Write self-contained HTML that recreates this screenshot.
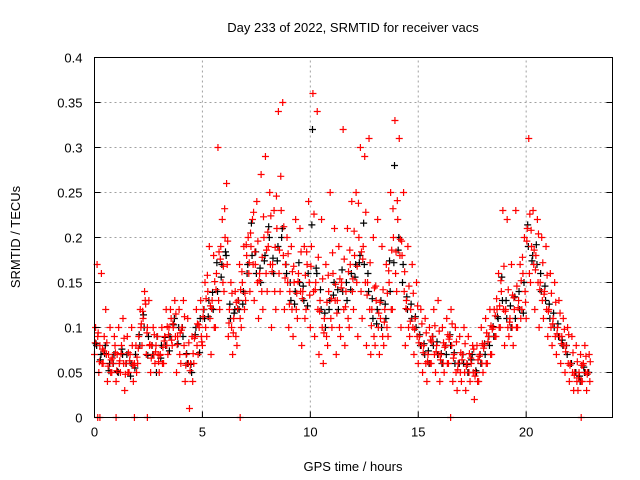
<!DOCTYPE html>
<html><head><meta charset="utf-8"><style>
body{margin:0;background:#fff}
svg{display:block;font-family:"Liberation Sans",sans-serif}
</style></head><body>
<svg id="chart" width="640" height="480" viewBox="0 0 640 480">
<rect width="640" height="480" fill="#fff"/>
<g id="grid"></g>
<g id="marks"></g>
<rect x="94.5" y="57.5" width="518" height="360" fill="none" stroke="#000" stroke-width="1"/>
<g id="axes" font-size="13" fill="#000"></g>
<text x="353" y="32" font-size="13" text-anchor="middle">Day 233 of 2022, SRMTID for receiver vacs</text>
<text x="353" y="471" font-size="13" text-anchor="middle">GPS time / hours</text>
<text x="20" y="237" font-size="13" text-anchor="middle" transform="rotate(-90 20 237)">SRMTID / TECUs</text>
</svg>
<script>
const hours=[0,0.2,0.4,0.6,0.8,1,1.2,1.4,1.6,1.8,2,2.2,2.4,2.6,2.8,3,3.2,3.4,3.6,3.8,4,4.2,4.4,4.6,4.8,5,5.2,5.4,5.6,5.8,6,6.2,6.4,6.6,6.8,7,7.2,7.4,7.6,7.8,8,8.2,8.4,8.6,8.8,9,9.2,9.4,9.6,9.8,10,10.2,10.4,10.6,10.8,11,11.2,11.4,11.6,11.8,12,12.2,12.4,12.6,12.8,13,13.2,13.4,13.6,13.8,14,14.2,14.4,14.6,14.8,15,15.2,15.4,15.6,15.8,16,16.2,16.4,16.6,16.8,17,17.2,17.4,17.6,17.8,18,18.2,18.4,18.6,18.8,19,19.2,19.4,19.6,19.8,20,20.2,20.4,20.6,20.8,21,21.2,21.4,21.6,21.8,22,22.2,22.4,22.6,22.8];
const redLow=[.07,.05,.06,.04,.05,.04,.05,.03,.05,.04,.06,.08,.07,.05,.06,.05,.06,.07,.08,.05,.06,.04,.01,.06,.07,.08,.09,.07,.10,.12,.14,.09,.07,.08,.10,.13,.14,.13,.11,.12,.14,.10,.12,.14,.12,.10,.09,.11,.08,.12,.10,.09,.07,.06,.08,.10,.07,.09,.08,.10,.12,.09,.11,.08,.07,.08,.07,.08,.09,.12,.14,.10,.08,.09,.07,.06,.05,.04,.06,.05,.04,.05,.06,.04,.03,.04,.03,.04,.02,.04,.05,.06,.07,.09,.10,.08,.09,.08,.10,.12,.11,.15,.12,.10,.11,.09,.08,.07,.06,.05,.04,.03,.03,.04,.03];
const redMid=[.10,.08,.09,.07,.06,.07,.08,.06,.07,.06,.09,.11,.10,.08,.08,.07,.09,.10,.10,.09,.10,.07,.06,.09,.10,.12,.14,.13,.16,.19,.20,.12,.11,.13,.15,.18,.19,.17,.16,.20,.19,.17,.21,.23,.17,.14,.15,.16,.14,.17,.19,.15,.13,.11,.14,.16,.13,.15,.14,.17,.18,.20,.19,.15,.12,.13,.11,.12,.15,.20,.22,.18,.13,.12,.11,.09,.08,.07,.09,.08,.07,.08,.09,.07,.06,.07,.06,.06,.05,.07,.08,.09,.10,.12,.14,.12,.11,.12,.13,.16,.21,.19,.18,.15,.14,.12,.11,.10,.09,.08,.06,.05,.05,.06,.05];
const redHigh=[.17,.16,.12,.10,.09,.10,.11,.09,.10,.08,.12,.14,.13,.10,.09,.10,.12,.12,.13,.12,.13,.11,.09,.12,.13,.15,.19,.18,.30,.22,.26,.15,.14,.17,.19,.20,.22,.24,.27,.29,.25,.23,.34,.35,.20,.19,.22,.21,.19,.24,.36,.34,.22,.17,.25,.21,.19,.32,.21,.24,.25,.30,.29,.31,.20,.22,.19,.17,.25,.33,.31,.25,.19,.17,.15,.12,.11,.10,.12,.13,.10,.11,.12,.10,.09,.10,.09,.08,.08,.10,.11,.12,.12,.16,.23,.22,.17,.23,.17,.20,.31,.23,.22,.20,.19,.16,.15,.13,.11,.10,.09,.08,.07,.08,.07];
const redExtra=[.09,.06,.07,.05,.08,.06,.06,.05,.08,.05,.10,.13,.08,.07,.07,.06,.08,.11,.09,.07,.08,.06,.04,.08,.09,.10,.11,.10,.13,.15,.17,.10,.09,.11,.12,.16,.17,.15,.14,.16,.17,.14,.16,.18,.15,.12,.12,.14,.11,.15,.14,.12,.10,.09,.11,.13,.10,.12,.11,.14,.15,.14,.15,.12,.09,.10,.09,.10,.12,.16,.18,.14,.10,.10,.09,.08,.06,.06,.07,.07,.06,.06,.08,.05,.05,.05,.05,.05,.04,.06,.06,.07,.09,.10,.12,.10,.10,.10,.11,.14,.16,.17,.15,.13,.12,.10,.09,.09,.08,.06,.05,.04,.04,.05,.04];
const redExtra2=[.083,.062,.074,.057,.066,.052,.071,.048,.063,.058,.077,.118,.094,.066,.073,.069,.085,.092,.104,.081,.097,.058,.052,.088,.103,.112,.158,.121,.142,.176,.232,.105,.094,.121,.162,.192,.205,.184,.152,.223,.206,.162,.246,.268,.155,.126,.168,.151,.132,.184,.168,.142,.118,.094,.158,.183,.116,.144,.123,.186,.207,.238,.176,.136,.102,.146,.128,.106,.163,.232,.241,.196,.121,.107,.098,.083,.072,.062,.084,.073,.064,.078,.087,.066,.053,.064,.057,.066,.046,.068,.077,.084,.098,.132,.152,.118,.106,.133,.122,.178,.196,.208,.164,.142,.137,.118,.104,.093,.082,.073,.058,.047,.044,.058,.048];
const redExtra3=[.094,.076,.083,.064,.072,.063,.088,.072,.058,.067,.104,.126,.081,.092,.062,.078,.101,.086,.115,.094,.112,.083,.071,.104,.084,.132,.124,.151,.184,.168,.196,.138,.128,.142,.138,.172,.228,.196,.178,.186,.224,.189,.186,.212,.182,.162,.138,.184,.158,.136,.226,.178,.154,.128,.132,.148,.154,.176,.162,.154,.168,.184,.228,.172,.144,.116,.142,.138,.186,.184,.198,.162,.146,.138,.124,.104,.094,.086,.102,.096,.083,.092,.104,.084,.072,.082,.071,.076,.064,.082,.094,.102,.113,.124,.168,.142,.136,.146,.152,.128,.226,.186,.204,.172,.158,.138,.128,.116,.098,.092,.072,.062,.058,.068,.062];
const blackVals=[.08,.07,.08,.06,.07,.05,.07,.07,.06,.07,.08,.10,.09,.07,.09,.08,.08,.09,.11,.10,.09,.06,.05,.10,.11,.11,.13,.12,.14,.17,.18,.11,.12,.12,.14,.17,.18,.16,.15,.18,.20,.16,.19,.21,.16,.13,.14,.15,.13,.16,.32,.16,.12,.10,.13,.15,.12,.14,.13,.16,.17,.18,.17,.14,.11,.12,.10,.11,.14,.28,.20,.17,.12,.11,.10,.08,.07,.06,.08,.07,.06,.07,.08,.06,.06,.06,.05,.07,.05,.06,.07,.08,.09,.11,.13,.11,.10,.11,.12,.15,.19,.18,.17,.14,.13,.11,.10,.09,.08,.07,.06,.05,.04,.05,.05];
const zeroHours=[0.15,0.25,1.0,1.85,2.45,6.75,16.5,22.55];
const xTicks=[0,5,10,15,20];
const yTicks=[0,0.05,0.1,0.15,0.2,0.25,0.3,0.35,0.4];

const NS="http://www.w3.org/2000/svg";
const X0=94.5,X1=612.5,Y0=417.5,Y1=57.5;
function xs(h){return X0+(h/24)*(X1-X0);}
function ys(v){return Y0-(v/0.4)*(Y0-Y1);}
const grid=document.getElementById('grid'),axes=document.getElementById('axes'),marks=document.getElementById('marks');
function mk(tag,attrs,parent){const e=document.createElementNS(NS,tag);for(const k in attrs)e.setAttribute(k,attrs[k]);parent.appendChild(e);return e;}

xTicks.forEach(t=>{
  const x=xs(t);
  if(t>0){const g=mk('line',{x1:x,y1:Y0,x2:x,y2:Y1,stroke:'#a0a0a0','stroke-dasharray':'2,3'},grid);
  
  }
  mk('line',{x1:x,y1:Y0,x2:x,y2:Y0-6,stroke:'#000'},axes);
  const tx=mk('text',{x:x,y:Y0+19,'text-anchor':'middle'},axes);tx.textContent=t;
  
  
});
yTicks.forEach(t=>{
  const y=ys(t);
  if(t>0&&t<0.4){const g=mk('line',{x1:X0,y1:y,x2:X1,y2:y,stroke:'#a0a0a0','stroke-dasharray':'2,3'},grid);
  
  }
  mk('line',{x1:X0,y1:y,x2:X0+6,y2:y,stroke:'#000'},axes);
  mk('line',{x1:X1,y1:y,x2:X1-6,y2:y,stroke:'#000'},axes);
  const tx=mk('text',{x:X0-12,y:y+5,'text-anchor':'end'},axes);tx.textContent=String(+t.toFixed(2));
  
  
});

function plus(h,v,color){
  const x=xs(h),y=ys(v);
  const p=mk('path',{d:`M${x-3.5},${y}H${x+3.5}M${x},${y-3.5}V${y+3.5}`,stroke:color,'stroke-width':1.2,fill:'none'},marks);
  
  
}
hours.forEach((h,i)=>plus(h+0.1,blackVals[i],'#000'));
hours.forEach((h,i)=>plus(h+0.07,redExtra3[i]-0.012,'#000'));
hours.forEach((h,i)=>plus(h,redLow[i],'#f00'));
hours.forEach((h,i)=>plus(h+0.05,redMid[i],'#f00'));
hours.forEach((h,i)=>plus(h+0.12,redHigh[i],'#f00'));
hours.forEach((h,i)=>plus(h+0.15,redExtra[i],'#f00'));
hours.forEach((h,i)=>plus(h+0.03,redExtra2[i],'#f00'));
hours.forEach((h,i)=>plus(h+0.17,redExtra3[i],'#f00'));
zeroHours.forEach(h=>plus(h,0,'#f00'));
</script>
</body></html>
